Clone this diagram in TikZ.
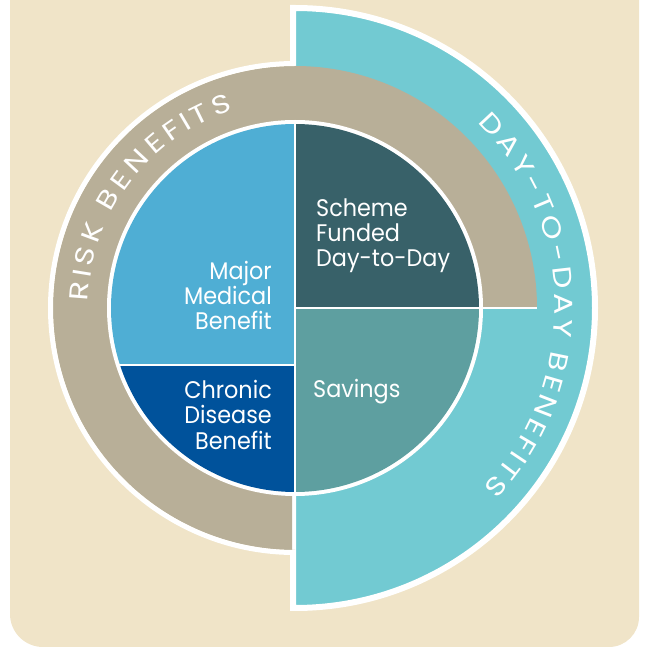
\documentclass[tikz,border=0pt]{standalone}
\usepackage{fontspec}
\setmainfont{Poppins}
\newfontfamily\labelfont{Poppins}[FakeStretch=0.93]
\newfontfamily\arcfamily{Poppins}[FakeStretch=1.22]
\usetikzlibrary{decorations.text}
\definecolor{bgbeige}{RGB}{240,228,200}
\definecolor{ringtan}{RGB}{184,175,152}
\definecolor{ringteal}{RGB}{114,202,210}
\definecolor{mmbblue}{RGB}{79,174,212}
\definecolor{cdbblue}{RGB}{0,82,155}
\definecolor{sfdteal}{RGB}{56,97,105}
\definecolor{savteal}{RGB}{94,159,160}
\tikzset{
  lbl/.style={text=white, inner sep=0pt, font=\labelfont\fontsize{24}{24}\selectfont},
  lblr/.style={lbl, anchor=base east},
  lbll/.style={lbl, anchor=base west},
  divider/.style={draw=white, line width=2pt},
  arctext/.style={decorate, decoration={text effects along path, text={#1},
    text effects/.cd, text along path, fit text to path,
    characters={text=white, font=\arcfamily\fontsize{26}{26}\selectfont}}},
}
\begin{document}
\begin{tikzpicture}[x=1pt,y=1pt]
\useasboundingbox (0,0) rectangle (648,649);
% background panel
\fill[bgbeige] (10,649) -- (10,35) arc(180:270:33) -- (609,2) arc(270:360:30) -- (639,649) -- cycle;
\coordinate (c) at (295,341);
% day-to-day half disc
\filldraw[fill=ringteal, draw=white, line width=6pt] (293,641) -- (295,641) arc(90:-90:300) -- (293,41) -- cycle;
% risk ring
\fill[ringtan] (537,341) arc(0:270:242) -- (292,99) -- (292,341) -- cycle;
\draw[white, line width=5pt] (295,585.5) arc(90:270:244.5);
% inner circle
\fill[white] (c) circle (188);
\begin{scope}
  \clip (c) circle (184);
  \fill[mmbblue] (100,284) rectangle (295,530);
  \fill[cdbblue] (100,150) rectangle (295,284);
  \fill[sfdteal] (295,341) rectangle (490,530);
  \fill[savteal] (295,150) rectangle (490,341);
\end{scope}
\coordinate (vt) at (295,529);
\coordinate (vb) at (295,153);
\coordinate (hl) at (119,284);
\coordinate (hm) at (295,284);
\coordinate (hr) at (537,341);
\draw[divider] (vt) -- (vb);
\draw[divider] (hl) -- (hm);
\draw[divider] (c) -- (hr);
% curved titles
\path[arctext={RISK BENEFITS}] (c) ++(178.2:207) arc(178.2:107.4:207);
\path[arctext={DAY-TO-DAY BENEFITS}] (c) ++(45.5:260) arc(45.5:-43.7:260);
% labels
\node[lblr] (mmb1) at (272,369) {Major};
\node[lblr] (mmb2) at (272,344) {Medical};
\node[lblr] (mmb3) at (272,319) {Benefit};
\node[lblr] (cdb1) at (272,250) {Chronic};
\node[lblr] (cdb2) at (272,225) {Disease};
\node[lblr] (cdb3) at (272,199) {Benefit};
\node[lbll] (sfd1) at (316,432.3) {Scheme};
\node[lbll] (sfd2) at (316,407.3) {Funded};
\node[lbll] (sfd3) at (316,382.3) {Day-to-Day};
\node[lbll] (sav1) at (313,251) {Savings};
\end{tikzpicture}
\end{document}
